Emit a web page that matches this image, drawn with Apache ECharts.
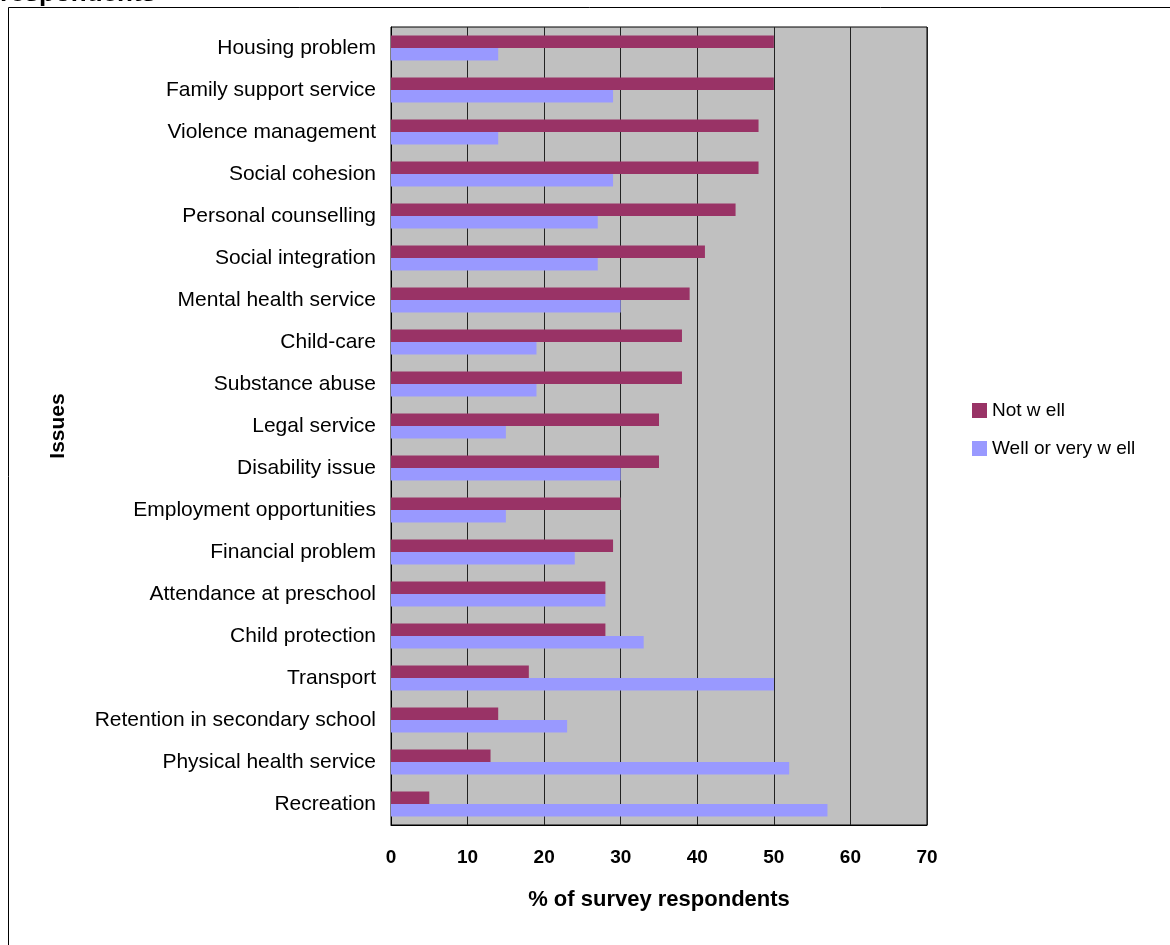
<!DOCTYPE html>
<html>
<head>
<meta charset="utf-8">
<script src="https://cdn.jsdelivr.net/npm/echarts@6/dist/echarts.min.js"></script>
<style>
html,body{margin:0;padding:0;background:#fff;}
#c{width:1170px;height:945px;}
</style>
</head>
<body>
<div id="c"></div>
<script>
const categories = [
  "Housing problem","Family support service","Violence management","Social cohesion",
  "Personal counselling","Social integration","Mental health service","Child-care",
  "Substance abuse","Legal service","Disability issue","Employment opportunities",
  "Financial problem","Attendance at preschool","Child protection","Transport",
  "Retention in secondary school","Physical health service","Recreation"
];
const notWell =      [50,50,48,48,45,41,39,38,38,35,35,30,29,28,28,18,14,13,5];
const wellOrVeryWell = [14,29,14,29,27,27,30,19,19,15,30,15,24,28,33,50,23,52,57];
const seriesNames = ["Not w ell","Well or very w ell"];
const xTicks = [0,10,20,30,40,50,60,70];

const chart = echarts.init(document.getElementById('c'));
const font = "Liberation Sans, Arial, sans-serif";
chart.setOption({
  animation:false,
  backgroundColor:'#ffffff',
  graphic:[
    {type:'rect', shape:{x:8.5,y:7.5,width:1300,height:1100}, style:{fill:'none',stroke:'#000',lineWidth:1}, z:0},
    {type:'text', left:0, top:-19.5, style:{text:'respondents', font:'bold 26px '+font, fill:'#000'}, z:1}
  ],
  grid:{left:391, right:243, top:27, bottom:120, show:true, backgroundColor:'#c0c0c0', borderColor:'#000', borderWidth:1},
  legend:{
    orient:'vertical', left:967, top:396, itemWidth:15, itemHeight:15, itemGap:19,
    icon:'rect',
    textStyle:{fontFamily:font, fontSize:19, color:'#000'},
    data:seriesNames
  },
  xAxis:{
    type:'value', min:0, max:70, interval:10,
    axisLine:{show:true, lineStyle:{color:'#000', width:1}},
    axisTick:{show:false},
    axisLabel:{fontFamily:font, fontSize:19, fontWeight:'bold', color:'#000', margin:23,
      formatter:function(v){return xTicks.indexOf(v)>=0? String(v):'';}},
    splitLine:{show:true, lineStyle:{color:'#222', width:1}},
    name:'% of survey respondents', nameLocation:'middle', nameGap:64,
    nameTextStyle:{fontFamily:font, fontSize:22, fontWeight:'bold', color:'#000'}
  },
  yAxis:{
    type:'category', data:categories, inverse:true,
    axisLine:{show:true, lineStyle:{color:'#000', width:1}},
    axisTick:{show:false},
    axisLabel:{fontFamily:font, fontSize:21, color:'#000', margin:15},
    name:'Issues', nameLocation:'middle', nameGap:322, nameRotate:90,
    nameTextStyle:{fontFamily:font, fontSize:21, fontWeight:'bold', color:'#000'}
  },
  series:[
    {name:seriesNames[0], type:'bar', data:notWell, barWidth:12.5, barGap:'0%', itemStyle:{color:'#993366'}},
    {name:seriesNames[1], type:'bar', data:wellOrVeryWell, barWidth:12.5, barGap:'0%', itemStyle:{color:'#9999ff'}}
  ]
});
</script>
</body>
</html>
